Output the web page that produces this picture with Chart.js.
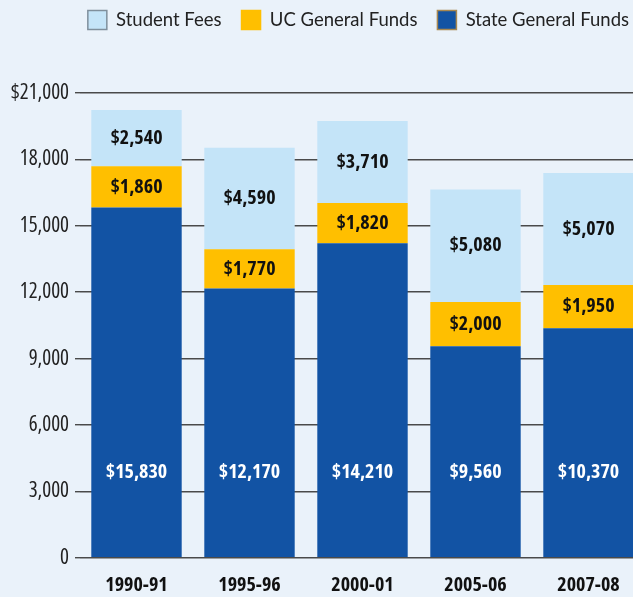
<!DOCTYPE html>
<html>
<head>
<meta charset="utf-8">
<script src="https://cdn.jsdelivr.net/npm/chart.js@4"></script>
<style>
    body { margin: 0; background: #eaf2fa; overflow: hidden; }
    #wrap { width: 650px; height: 597px; }
</style>
</head>
<body>
<div id="wrap"><canvas id="fundChart" width="650" height="597"></canvas></div>
<script>
const years = ['1990-91', '1995-96', '2000-01', '2005-06', '2007-08'];
const stateFunds = [15830, 12170, 14210, 9560, 10370];
const ucFunds = [1860, 1770, 1820, 2000, 1950];
const studentFees = [2540, 4590, 3710, 5080, 5070];
const yTicks = [0, 3000, 6000, 9000, 12000, 15000, 18000, 21000];

//Open Sans has a width axis, 'condensed' in the weight slot picks it
const narrow = "'Open Sans', 'Liberation Sans', sans-serif";

//legend borders, by dataset index
const legendStroke = ['#a88850', '#ffbf00', '#7f8f9c'];

//force legend height so plot area starts where it should
const legendSpace = {
    id: 'legendSpace',
    beforeInit(chart) {
        const fit = chart.legend.fit;
        chart.legend.fit = function () {
            fit.bind(chart.legend)();
            this.height = 93;
        };
    },
    afterLayout(chart) {
        chart.legend.right += 4;
        chart.legend.top = -9.5;
    }
};

//value labels inside each stacked segment
const segmentLabels = {
    id: 'segmentLabels',
    afterDatasetsDraw(chart) {
        const ctx = chart.ctx;
        ctx.save();
        ctx.font = "condensed bold 20px " + narrow;
        ctx.textAlign = 'center';
        ctx.textBaseline = 'middle';
        chart.data.datasets.forEach((ds, i) => {
            chart.getDatasetMeta(i).data.forEach((bar, j) => {
                const v = ds.data[j];
                let y = (bar.y + bar.base) / 2;
                if (i === 0) y = bar.base - 85;
                ctx.fillStyle = i === 0 ? '#ffffff' : '#111111';
                ctx.fillText('$' + v.toLocaleString('en-US'), bar.x, y);
            });
        });
        ctx.restore();
    }
};

new Chart(document.getElementById('fundChart'), {
    type: 'bar',
    data: {
        labels: years,
        datasets: [
            { label: 'State General Funds', data: stateFunds, backgroundColor: '#1253a4' },
            { label: 'UC General Funds', data: ucFunds, backgroundColor: '#ffbf00' },
            { label: 'Student Fees', data: studentFees, backgroundColor: '#c4e4f8' }
        ]
    },
    options: {
        responsive: false,
        animation: false,
        layout: { padding: { left: 0, right: 5, top: 0, bottom: 0 } },
        datasets: {
            bar: { categoryPercentage: 0.8, barPercentage: 1, borderWidth: 0 }
        },
        scales: {
            x: {
                stacked: true,
                afterFit(scale) { scale.height = 39.3; },
                grid: { display: false, drawTicks: false },
                border: { display: false },
                ticks: {
                    padding: 16,
                    autoSkip: false,
                    maxRotation: 0,
                    color: '#111',
                    font: { family: narrow, size: 20, weight: 'condensed bold' }
                }
            },
            y: {
                stacked: true,
                min: 0,
                max: 21000,
                afterFit(scale) { scale.width = 80; },
                afterBuildTicks(scale) { scale.ticks = yTicks.map(v => ({ value: v })); },
                grid: { color: '#4a4a4a', lineWidth: 1.4, tickLength: 5 },
                border: { display: false },
                ticks: {
                    padding: 6,
                    color: '#222',
                    font: { family: narrow, size: 21, weight: 'condensed' },
                    callback: v => v === 21000 ? '$21,000' : v.toLocaleString('en-US')
                }
            }
        },
        plugins: {
            tooltip: { enabled: false },
            legend: {
                position: 'top',
                align: 'end',
                reverse: true,
                labels: {
                    boxWidth: 19,
                    boxHeight: 19,
                    padding: 20,
                    color: '#222',
                    font: { family: 'Lato', size: 18.5 },
                    generateLabels(chart) {
                        const items = Chart.defaults.plugins.legend.labels.generateLabels(chart);
                        items.forEach(it => {
                            it.strokeStyle = legendStroke[it.datasetIndex];
                            it.lineWidth = 1.5;
                        });
                        return items;
                    }
                }
            }
        }
    },
    plugins: [legendSpace, segmentLabels]
});
</script>
</body>
</html>
